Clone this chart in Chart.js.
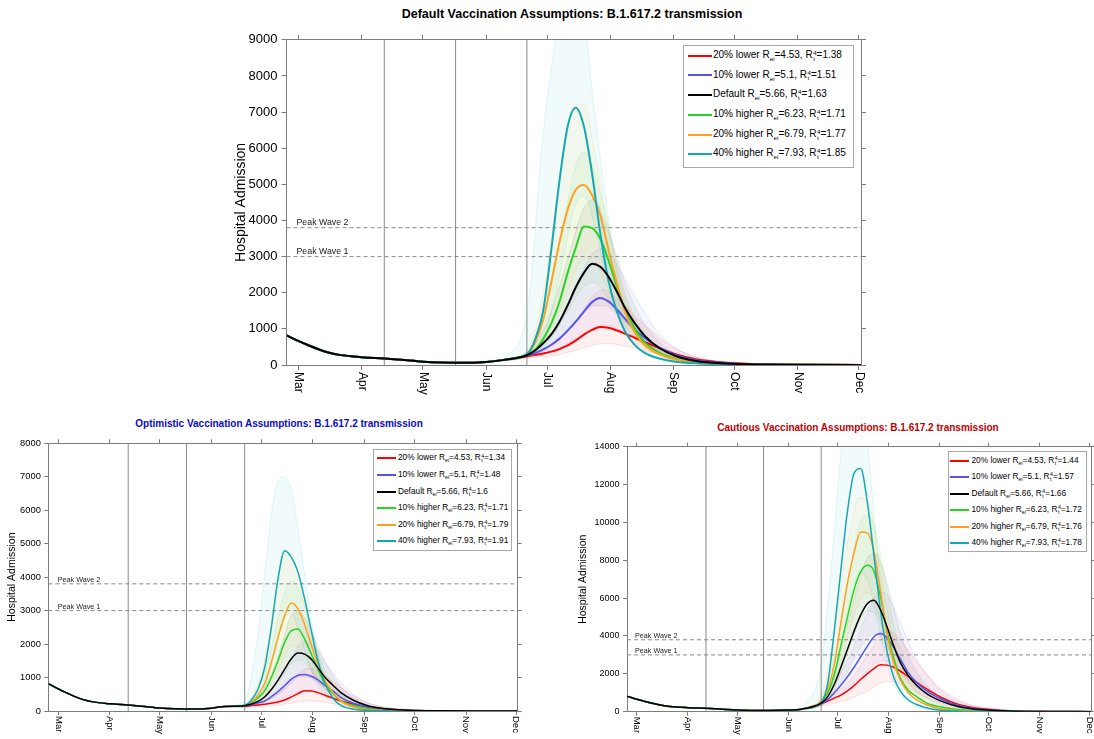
<!DOCTYPE html>
<html><head><meta charset="utf-8">
<script src="https://cdn.jsdelivr.net/npm/chart.js@4"></script>
<style>
body{margin:0;background:#fff;}
#page{position:relative;width:1094px;height:739px;overflow:hidden;font-family:'Liberation Sans',Arial,Helvetica,sans-serif;background:#fff;}
canvas{position:absolute;}
.title{position:absolute;font-weight:bold;white-space:nowrap;transform:translate(-50%,-50%);}
.legend{position:absolute;border:1px solid #a8a8a8;background:#fff;box-sizing:border-box;}
.row{position:absolute;left:0;height:16px;white-space:nowrap;display:flex;align-items:center;}
.swatch{display:inline-block;height:2px;}
.txt{line-height:1;}
.txt sub{font-size:0.62em;vertical-align:-0.35em;line-height:0;}
.ss{display:inline-flex;flex-direction:column;font-size:0.62em;line-height:0.95;vertical-align:0.55em;margin-left:0.5px;}
</style></head>
<body><div id="page"></div>
<script>
// ---------- data ----------
const monthDays = [0, 31, 61, 92, 122, 153, 184, 214, 245, 275];
const monthLabels = ['Mar','Apr','May','Jun','Jul','Aug','Sep','Oct','Nov','Dec'];
const roadmapDays = [42, 77, 112];
const peakWaveLevels = [3800, 3000];
const peakWaveLabels = ['Peak Wave 2', 'Peak Wave 1'];
const scenarioNames = ['20% lower', '10% lower', 'Default', '10% higher', '20% higher', '40% higher'];
const rEi = [4.53, 5.1, 5.66, 6.23, 6.79, 7.93];
const rt4Default = [1.38, 1.51, 1.63, 1.71, 1.77, 1.85];
const rt4Optimistic = [1.34, 1.48, 1.6, 1.71, 1.79, 1.91];
const rt4Cautious = [1.44, 1.57, 1.66, 1.72, 1.76, 1.78];

const earlyDays = [-6, 0, 5, 10, 15, 20, 31, 42, 50, 61, 70, 80, 92, 100];
const earlyAdmissions = [820, 660, 540, 430, 340, 280, 215, 178, 145, 92, 68, 60, 85, 135];
const waveDays = [112,116,120,124,128,132,136,140,144,148,152,156,160,165,170,177,185,195,210,230,250,276];
const bandDays = [112,120,125,130,135,140,145,150,155,160,167,175,185,200,220];

// Default
const defaultRed    = [240,280,320,370,440,540,680,840,970,1050,1030,960,870,750,630,470,300,160,65,20,8,3];
const defaultBlue   = [260,330,430,560,730,950,1200,1480,1740,1855,1760,1550,1290,980,740,480,280,130,50,15,6,3];
const defaultBlack  = [270,400,600,850,1200,1650,2150,2550,2800,2720,2450,2050,1600,1150,800,470,250,110,40,12,5,2];
const defaultGreen  = [280,420,720,1150,1750,2550,3250,3830,3790,3500,2900,2200,1550,1000,620,340,170,75,30,10,5,2];
const defaultOrange = [290,620,1250,2300,3400,4300,4850,4980,4700,4150,3200,2300,1500,900,540,300,150,65,25,8,4,2];
const defaultTeal   = [300,700,1500,3200,5100,6600,7120,6600,5300,3650,2350,1500,950,550,330,180,90,45,18,7,3,2];
const defaultRedUpper    = [280,390,550,790,1140,1540,1940,2080,1900,1650,1250,850,450,160,45];
const defaultRedLower    = [200,225,255,315,395,475,555,595,580,530,440,330,200,80,20];
const defaultBlueUpper   = [300,620,980,1480,2080,2680,3130,3220,2900,2400,1700,1000,470,150,40];
const defaultBlueLower   = [210,290,390,540,710,890,1040,1100,1050,900,680,450,230,80,20];
const defaultBlackUpper  = [320,950,1650,2550,3500,4350,4580,4000,3200,2300,1400,750,320,100,25];
const defaultBlackLower  = [220,380,600,880,1180,1460,1640,1640,1470,1200,800,450,200,65,18];
const defaultGreenUpper  = [350,1300,2500,3900,5300,5900,5400,4300,3100,2000,1100,550,220,70,20];
const defaultGreenLower  = [220,480,830,1280,1780,2180,2280,2000,1550,1100,650,330,140,45,12];
const defaultOrangeUpper = [400,2000,3900,5900,7200,7200,6000,4400,3000,1900,1000,500,200,60,15];
const defaultOrangeLower = [220,600,1100,1800,2500,2950,2850,2350,1700,1100,600,300,120,40,10];
const defaultTealUpper   = [1400,6400,8600,10800,11300,9700,7100,4900,2900,1700,800,320,120,40,12];
const defaultTealLower   = [200,700,1700,3000,4300,4700,3900,2700,1700,1000,500,220,90,30,10];

// Optimistic
const optimisticRed    = [150,165,180,200,230,270,330,420,520,605,600,550,480,380,300,210,130,70,25,8,3,1];
const optimisticBlue   = [160,190,240,300,430,580,760,950,1070,1090,1040,930,770,600,400,240,130,60,20,6,2,1];
const optimisticBlack  = [160,210,290,420,640,920,1250,1560,1730,1700,1550,1290,1020,770,540,330,170,75,25,7,2,1];
const optimisticGreen  = [160,250,400,600,1000,1500,2050,2400,2450,2150,1700,1250,820,520,300,170,80,30,10,3,1,0];
const optimisticOrange = [160,270,480,820,1450,2200,2850,3230,3050,2580,1980,1400,920,550,290,120,50,20,7,2,1,0];
const optimisticTeal   = [170,330,650,1300,2500,3950,4790,4600,4150,3350,2400,1500,850,380,160,55,20,8,3,1,0,0];
const optimisticRedUpper    = [160,230,310,430,620,880,1150,1280,1220,1060,800,520,260,90,25];
const optimisticRedLower    = [110,130,150,170,200,240,280,300,290,260,210,150,80,30,8];
const optimisticBlueUpper   = [170,320,500,760,1150,1600,2000,2080,1850,1500,1000,580,260,80,20];
const optimisticBlueLower   = [120,170,220,290,380,480,580,610,560,460,320,190,90,30,8];
const optimisticBlackUpper  = [180,420,800,1350,2100,2850,2950,2600,2050,1500,900,480,200,60,15];
const optimisticBlackLower  = [120,200,300,430,620,850,1020,1020,880,680,450,250,110,35,10];
const optimisticGreenUpper  = [200,650,1300,2300,3400,3880,3600,2800,1950,1250,650,300,110,30,8];
const optimisticGreenLower  = [120,270,450,700,1050,1400,1520,1350,1000,680,380,170,60,18,5];
const optimisticOrangeUpper = [200,800,1800,3300,4600,4700,3900,2800,1800,1100,550,230,80,25,6];
const optimisticOrangeLower = [120,320,600,1000,1500,1950,1850,1450,950,600,300,120,45,12,3];
const optimisticTealUpper   = [330,2300,4600,6500,7000,6600,5100,3400,1900,1000,420,150,50,15,4];
const optimisticTealLower   = [120,350,800,1700,2700,2900,2300,1500,850,450,180,60,20,6,2];

// Cautious
const cautiousRed    = [420,560,720,880,1100,1380,1700,2000,2280,2480,2460,2350,2150,1850,1550,1150,750,400,150,45,15,5];
const cautiousBlue   = [420,650,1000,1400,1850,2350,2900,3450,3950,4130,3900,3400,2800,2050,1550,1050,670,330,120,35,10,3];
const cautiousBlack  = [450,800,1450,2350,3300,4250,5100,5700,5890,5400,4500,3500,2620,1900,1400,900,560,280,100,30,10,3];
const cautiousGreen  = [500,1000,1950,3500,5000,6450,7400,7740,7450,6100,4300,2850,1800,1120,800,420,250,110,40,10,3,1];
const cautiousOrange = [550,1200,2500,4700,6800,8400,9500,9450,8500,6400,4150,2600,1700,1000,620,330,160,60,20,5,2,1];
const cautiousTeal   = [500,1500,4300,7500,10600,12600,12850,11100,8300,5400,3200,1850,1100,620,380,180,80,30,10,3,1,0];
const cautiousRedUpper    = [450,900,1250,1700,2300,2950,3650,4250,4200,3800,3000,2100,1200,450,130];
const cautiousRedLower    = [300,450,550,700,880,1100,1350,1560,1580,1450,1150,800,450,170,50];
const cautiousBlueUpper   = [500,1500,2200,3100,4100,5200,6100,6300,5700,4700,3300,2100,1100,400,110];
const cautiousBlueLower   = [350,750,1050,1400,1750,2150,2550,2700,2500,2100,1500,950,500,180,50];
const cautiousBlackUpper  = [600,2100,3600,5300,6900,8100,8350,7400,5800,4200,2600,1500,750,250,70];
const cautiousBlackLower  = [350,950,1650,2450,3250,3900,4100,3800,3000,2100,1300,750,380,130,35];
const cautiousGreenUpper  = [700,3000,5200,7700,9800,10400,9600,7400,5000,3200,1700,850,350,110,30];
const cautiousGreenLower  = [350,1200,2300,3600,4700,5300,5200,4200,2900,1900,1000,500,200,60,15];
const cautiousOrangeUpper = [900,4200,7200,9800,11300,11200,9300,6500,4200,2600,1400,650,280,80,20];
const cautiousOrangeLower = [400,1500,3000,4600,5800,6300,5700,4200,2700,1700,900,420,170,50,12];
const cautiousTealUpper   = [2500,9500,14500,17500,18000,14500,9500,5500,3000,1600,700,280,100,30,8];
const cautiousTealLower   = [300,1700,3800,6000,7300,7000,5300,3200,1700,900,380,140,50,15,4];

// ---------- styles ----------
const seriesColors = ['#ff0000','#5555ee','#000000','#22d622','#ffa01e','#14a9b2'];
const seriesOrder = [6, 5, 1, 4, 3, 2];
const bandFills = ['rgba(255,0,0,0.06)','rgba(85,85,238,0.06)','rgba(0,0,0,0.05)','rgba(34,214,34,0.06)','rgba(255,190,30,0.07)','rgba(20,190,200,0.06)'];
const bandEdges = ['rgba(255,0,0,0.15)','rgba(85,85,238,0.15)','rgba(0,0,0,0.12)','rgba(34,214,34,0.15)','rgba(255,170,30,0.2)','rgba(20,180,190,0.15)'];
const AXIS = '#7d7d7d';
const FONT = "'Liberation Sans', Arial, Helvetica, sans-serif";
const xMin = -6, xMax = 276;
Chart.defaults.font.family = FONT;
Chart.defaults.color = '#000';

const panels = [
  { title:'Default Vaccination Assumptions: B.1.617.2 transmission', titleColor:'#000', titleX:572, titleY:14, titleSize:12.5,
    lines:[defaultRed,defaultBlue,defaultBlack,defaultGreen,defaultOrange,defaultTeal],
    uppers:[defaultRedUpper,defaultBlueUpper,defaultBlackUpper,defaultGreenUpper,defaultOrangeUpper,defaultTealUpper],
    lowers:[defaultRedLower,defaultBlueLower,defaultBlackLower,defaultGreenLower,defaultOrangeLower,defaultTealLower],
    rt4: rt4Default,
    g:{L:286.5,R:861,T:37.3,B:365,yMax:9000,yStep:1000,yTitleX:241,yTitleSize:14,tickSize:13,xLabelSize:12,xLabelGap:7,peakSize:8.8,peakDx:10,peakDy:2.7,lineW:2,bottomH:40,tickLen:5,tickPad:4},
    lg:{x:683,y:45,w:171,h:123,row0:10.7,rowStep:19.7,lineX:5,lineW:24,textX:30,font:10} },
  { title:'Optimistic Vaccination Assumptions: B.1.617.2 transmission', titleColor:'#0a0acc', titleX:279, titleY:423.3, titleSize:10,
    lines:[optimisticRed,optimisticBlue,optimisticBlack,optimisticGreen,optimisticOrange,optimisticTeal],
    uppers:[optimisticRedUpper,optimisticBlueUpper,optimisticBlackUpper,optimisticGreenUpper,optimisticOrangeUpper,optimisticTealUpper],
    lowers:[optimisticRedLower,optimisticBlueLower,optimisticBlackLower,optimisticGreenLower,optimisticOrangeLower,optimisticTealLower],
    rt4: rt4Optimistic,
    g:{L:48.3,R:517.7,T:443.3,B:711,yMax:8000,yStep:1000,yTitleX:12,yTitleSize:10.5,tickSize:9.3,xLabelSize:9.5,xLabelGap:5,peakSize:7.2,peakDx:9.5,peakDy:2,lineW:1.5,bottomH:28,tickLen:4,tickPad:3.5},
    lg:{x:373,y:449,w:139,h:102,row0:9.3,rowStep:16.6,lineX:3.5,lineW:19,textX:25,font:8.3} },
  { title:'Cautious Vaccination Assumptions: B.1.617.2 transmission', titleColor:'#c00000', titleX:858, titleY:426.5, titleSize:10,
    lines:[cautiousRed,cautiousBlue,cautiousBlack,cautiousGreen,cautiousOrange,cautiousTeal],
    uppers:[cautiousRedUpper,cautiousBlueUpper,cautiousBlackUpper,cautiousGreenUpper,cautiousOrangeUpper,cautiousTealUpper],
    lowers:[cautiousRedLower,cautiousBlueLower,cautiousBlackLower,cautiousGreenLower,cautiousOrangeLower,cautiousTealLower],
    rt4: rt4Cautious,
    g:{L:627,R:1091,T:446.7,B:711.7,yMax:14000,yStep:2000,yTitleX:583.5,yTitleSize:10.5,tickSize:9,xLabelSize:9.5,xLabelGap:5,peakSize:7.2,peakDx:8,peakDy:2,lineW:1.5,bottomH:28,tickLen:4,tickPad:3.5},
    lg:{x:948,y:451,w:139,h:101,row0:9.7,rowStep:16.5,lineX:2,lineW:19,textX:23.5,font:8.3} }
];

function pts(days, vals){ return days.map((d,i)=>({x:d, y:vals[i]})); }
const earlyPts = pts(earlyDays, earlyAdmissions);
const page = document.getElementById('page');

const annotate = {
  id:'annotate',
  afterDraw(chart, args, o){
    const ctx = chart.ctx, xs = chart.scales.x, ys = chart.scales.y;
    ctx.save();
    ctx.fillStyle = '#000';
    ctx.font = o.xLabelSize + 'px ' + FONT;
    ctx.textAlign = 'left'; ctx.textBaseline = 'middle';
    monthDays.forEach((d,i)=>{
      ctx.save();
      ctx.translate(xs.getPixelForValue(d), xs.top + o.xLabelGap);
      ctx.rotate(Math.PI/2);
      ctx.fillText(monthLabels[i], 0, 0);
      ctx.restore();
    });
    ctx.font = o.peakSize + 'px ' + FONT;
    ctx.textBaseline = 'alphabetic';
    ctx.fillStyle = '#222';
    peakWaveLevels.forEach((v,i)=>{
      ctx.fillText(peakWaveLabels[i], chart.chartArea.left + o.peakDx, ys.getPixelForValue(v) - o.peakDy);
    });
    ctx.restore();
  }
};

function makePanel(p){
  const g = p.g;
  const lh = g.yTitleSize * 1.2;
  const cLeft = Math.round(g.yTitleX - lh/2);
  const cTop = Math.floor(g.T - 9);
  const cW = Math.ceil(g.R + 6 - cLeft);
  const cH = Math.ceil(g.B + g.bottomH - cTop);
  const yW = g.L - cLeft, topH = g.T - cTop, rightW = cW - (g.R - cLeft), botH = cH - (g.B - cTop);
  const cv = document.createElement('canvas');
  cv.width = cW; cv.height = cH;
  Object.assign(cv.style, {left:cLeft+'px', top:cTop+'px', width:cW+'px', height:cH+'px'});
  page.appendChild(cv);

  const datasets = [];
  p.lines.forEach((vals,i)=>{
    datasets.push({label:scenarioNames[i], data:earlyPts.concat(pts(waveDays, vals)), borderColor:seriesColors[i],
      borderWidth:g.lineW, fill:false, order:seriesOrder[i], cubicInterpolationMode:'monotone'});
  });
  roadmapDays.forEach(d=>datasets.push({label:'roadmap', data:[{x:d,y:0},{x:d,y:g.yMax}], borderColor:'#8a8a8a', borderWidth:1, fill:false, order:20, tension:0}));
  peakWaveLevels.forEach(v=>datasets.push({label:'peak', data:[{x:xMin,y:v},{x:xMax,y:v}], borderColor:'#8a8a8a', borderWidth:1, borderDash:[4,3], fill:false, order:20, tension:0}));
  const start = earlyPts[earlyPts.length-1];
  p.uppers.forEach((up,i)=>{
    datasets.push({label:'upper', data:[start].concat(pts(bandDays, up)), borderColor:bandEdges[i], borderWidth:0.8,
      backgroundColor:bandFills[i], fill:'+1', order:30+i, cubicInterpolationMode:'monotone'});
    datasets.push({label:'lower', data:[start].concat(pts(bandDays, p.lowers[i])), borderColor:bandEdges[i], borderWidth:0.8,
      fill:false, order:30+i, cubicInterpolationMode:'monotone'});
  });

  const monthTicks = s => { s.ticks = monthDays.map(v=>({value:v})); };
  const gridOpt = {drawOnChartArea:false, drawTicks:true, tickLength:g.tickLen, color:AXIS, lineWidth:1};
  new Chart(cv, {
    type:'line',
    data:{datasets},
    options:{
      responsive:false, animation:false, devicePixelRatio:1,
      layout:{padding:0},
      elements:{point:{radius:0, hoverRadius:0}},
      events:[],
      plugins:{legend:{display:false}, tooltip:{enabled:false}, title:{display:false},
        annotate:{xLabelSize:g.xLabelSize, xLabelGap:g.xLabelGap, peakSize:g.peakSize, peakDx:g.peakDx, peakDy:g.peakDy}},
      scales:{
        x:{type:'linear', position:'bottom', min:xMin, max:xMax, afterBuildTicks:monthTicks, ticks:{display:false},
           grid:gridOpt, border:{display:true, color:AXIS}, afterFit:s=>{s.height = botH;}},
        x2:{type:'linear', position:'top', min:xMin, max:xMax, afterBuildTicks:monthTicks, ticks:{display:false},
           grid:gridOpt, border:{display:true, color:AXIS}, afterFit:s=>{s.height = topH;}},
        y:{type:'linear', position:'left', min:0, max:g.yMax,
           ticks:{stepSize:g.yStep, font:{size:g.tickSize}, color:'#000', padding:g.tickPad, callback:v=>String(v)},
           grid:gridOpt, border:{display:true, color:AXIS},
           title:{display:true, text:'Hospital Admission', font:{size:g.yTitleSize}, color:'#000', padding:0},
           afterFit:s=>{s.width = yW;}},
        y2:{type:'linear', position:'right', min:0, max:g.yMax, ticks:{display:false, stepSize:g.yStep},
           grid:gridOpt, border:{display:true, color:AXIS}, afterFit:s=>{s.width = rightW;}}
      }
    },
    plugins:[annotate]
  });

  // title
  const t = document.createElement('div');
  t.className = 'title'; t.textContent = p.title;
  Object.assign(t.style, {left:p.titleX+'px', top:p.titleY+'px', fontSize:p.titleSize+'px', color:p.titleColor});
  page.appendChild(t);

  // legend
  const lg = p.lg;
  const box = document.createElement('div');
  box.className = 'legend';
  Object.assign(box.style, {left:lg.x+'px', top:lg.y+'px', width:lg.w+'px', height:lg.h+'px', fontSize:lg.font+'px'});
  scenarioNames.forEach((name,i)=>{
    const row = document.createElement('div');
    row.className = 'row';
    row.style.top = (lg.row0 + i*lg.rowStep - 8 - 1) + 'px';
    const sw = document.createElement('span');
    sw.className = 'swatch';
    Object.assign(sw.style, {width:lg.lineW+'px', background:seriesColors[i], marginLeft:(lg.lineX-1)+'px', marginRight:(lg.textX-lg.lineX-lg.lineW)+'px'});
    const tx = document.createElement('span');
    tx.className = 'txt';
    tx.innerHTML = name + ' R<sub>ei</sub>=' + rEi[i] + ', R<span class="ss"><span>4</span><span>t</span></span>=' + p.rt4[i];
    row.append(sw, tx);
    box.appendChild(row);
  });
  page.appendChild(box);
}
panels.forEach(makePanel);
</script>
</body></html>
